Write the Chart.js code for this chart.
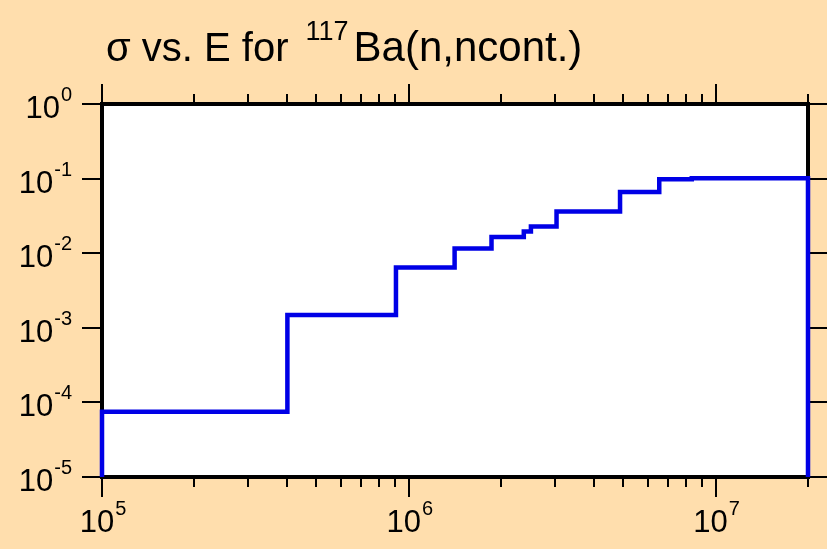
<!DOCTYPE html>
<html>
<head>
<meta charset="utf-8">
<script src="https://cdn.jsdelivr.net/npm/chart.js@4"></script>
<style>
  html, body { margin: 0; padding: 0; background: #ffdead; }
  canvas { display: block; }
</style>
</head>
<body>
<canvas id="chart" width="827" height="549"></canvas>
<script>
// step data: energy (eV) and cross section (b)
const energy = [1e5, 1e5, 4.02e5, 9.08e5, 1.41e6, 1.86e6, 2.37e6, 2.5e6, 3.03e6, 4.88e6, 6.55e6, 8.36e6, 2e7, 2e7];
const xsec = [1e-5, 7.5e-5, 1.48e-3, 6.45e-3, 0.0116, 0.0165, 0.0195, 0.0228, 0.0363, 0.066, 0.098, 0.101, 0.101, 1e-5];

const xTickExps = [5, 6, 7];
const yTickExps = [0, -1, -2, -3, -4, -5];
const titleMain = 'σ vs. E for';
const titleSup = '117';
const titleRest = 'Ba(n,ncont.)';

const FONT = '"Liberation Sans", Arial, sans-serif';

// "10" with a raised exponent; baseline = baseline of the "10"
function drawPower (ctx, exp, x, baseline, align) {
  const base = '10', sup = String(exp);
  ctx.font = '31px ' + FONT;
  const wb = ctx.measureText(base).width;
  ctx.font = '20px ' + FONT;
  const ws = ctx.measureText(sup).width;
  let left = x;
  if (align === 'center') left = x - (wb + ws + 1) / 2;
  if (align === 'right') left = x - wb - ws - 1;
  ctx.textBaseline = 'alphabetic';
  ctx.textAlign = 'left';
  ctx.font = '31px ' + FONT;
  ctx.fillText(base, left, baseline);
  ctx.font = '20px ' + FONT;
  ctx.fillText(sup, left + wb + 1, baseline - 17);
}

const framePlugin = {
  id: 'frame',
  beforeDatasetsDraw (chart) {
    const {ctx, chartArea: a, scales: {x, y}} = chart;
    ctx.save();
    ctx.fillStyle = '#ffffff';
    ctx.fillRect(a.left, a.top, a.right - a.left, a.bottom - a.top);

    ctx.strokeStyle = '#000';
    ctx.lineWidth = 2;
    ctx.beginPath();
    // x ticks, top and bottom, major and minor
    for (let e = 5; e <= 7; e++) {
      for (let m = 1; m <= 9; m++) {
        const v = m * Math.pow(10, e);
        if (v > 2e7) break;
        const px = Math.round(x.getPixelForValue(v));
        const len = m === 1 ? 20 : 10;
        ctx.moveTo(px, a.bottom);
        ctx.lineTo(px, a.bottom + len);
        ctx.moveTo(px, a.top);
        ctx.lineTo(px, a.top - len);
      }
    }
    const rx = Math.round(x.getPixelForValue(2e7));
    ctx.moveTo(rx, a.bottom); ctx.lineTo(rx, a.bottom + 10);
    ctx.moveTo(rx, a.top); ctx.lineTo(rx, a.top - 10);
    // y ticks left and right
    yTickExps.forEach(e => {
      const py = Math.round(y.getPixelForValue(Math.pow(10, e)));
      ctx.moveTo(a.left, py); ctx.lineTo(a.left - 20, py);
      ctx.moveTo(a.right, py); ctx.lineTo(a.right + 20, py);
    });
    ctx.stroke();

    ctx.lineWidth = 4;
    ctx.strokeRect(a.left, a.top, a.right - a.left, a.bottom - a.top);

    ctx.fillStyle = '#000';
    xTickExps.forEach(e => {
      drawPower(ctx, e, x.getPixelForValue(Math.pow(10, e)) + 1, 532, 'center');
    });
    yTickExps.forEach(e => {
      drawPower(ctx, e, 72, y.getPixelForValue(Math.pow(10, e)) + 14, 'right');
    });

    // title with superscript mass number
    ctx.textAlign = 'left';
    ctx.textBaseline = 'alphabetic';
    let tx = 106;
    ctx.font = '40px ' + FONT;
    ctx.fillText(titleMain, tx, 61);
    tx += ctx.measureText(titleMain).width + 17;
    ctx.font = '27px ' + FONT;
    ctx.fillText(titleSup, tx, 40);
    tx += ctx.measureText(titleSup).width + 5;
    ctx.font = '42px ' + FONT;
    ctx.fillText(titleRest, tx, 61);
    ctx.restore();
  }
};

new Chart(document.getElementById('chart'), {
  type: 'line',
  data: {
    datasets: [{
      data: energy.map((e, i) => ({x: e, y: xsec[i]})),
      stepped: 'before',
      borderColor: '#0000e6',
      borderWidth: 4.5,
      pointRadius: 0,
      fill: false,
      clip: false
    }]
  },
  options: {
    responsive: false,
    animation: false,
    layout: {padding: {left: 102, right: 19, top: 104, bottom: 72}},
    plugins: {legend: {display: false}, tooltip: {enabled: false}, title: {display: false}},
    scales: {
      x: {type: 'logarithmic', min: 1e5, max: 2e7, display: false},
      y: {type: 'logarithmic', min: 1e-5, max: 1, display: false}
    }
  },
  plugins: [framePlugin]
});
</script>
</body>
</html>
